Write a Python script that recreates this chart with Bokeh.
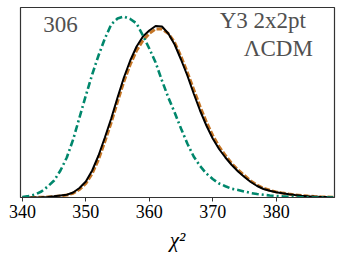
from bokeh.plotting import figure
from bokeh.models import Range1d, FixedTicker
from bokeh.core.properties import value
from bokeh.embed import file_html
from bokeh.resources import INLINE

# chi^2 grid (integer steps)
chi2 = list(range(340, 390))

# dash-dot green curve (relative density)
green = [0.5, 1.5, 3, 6, 11, 17, 27, 40, 58, 80,
         102, 123, 142, 159, 173, 179, 181, 178.5, 174, 162,
         149, 135, 117, 100, 85, 69, 54, 41, 31.5, 24,
         18.5, 14, 11.3, 8.7, 7.5, 6, 4.5, 3.5, 2.7, 2,
         1.5, 1.1, 0.8, 0.5, 0.3, 0.1, 0, 0, 0, 0]

# solid black curve
black = [0, 0, 0.1, 0.3, 0.6, 1.2, 2, 2.8, 5, 9.5,
         16, 27, 42, 60, 79, 100, 120, 137, 151, 161,
         167, 171.5, 171, 164, 153, 138, 122, 104, 87, 72,
         59, 48.5, 40, 32.5, 26, 20.5, 15.5, 11.5, 8.5, 6.8,
         5.3, 4.2, 3.3, 2.5, 1.8, 1.3, 0.9, 0.6, 0.4, 0.3]

# dashed orange curve
orange = [0, 0, 0.1, 0.2, 0.5, 1.0, 1.6, 2.4, 4.2, 8,
          14, 24, 38, 56, 75, 96, 116, 133, 147, 157,
          164, 168.5, 168.5, 164, 155, 141, 125, 108, 91, 75.5,
          62, 51, 42, 34, 27.5, 22, 16.5, 12.5, 9.2, 7.2,
          5.6, 4.4, 3.4, 2.6, 1.9, 1.4, 1.0, 0.7, 0.5, 0.3]

ticks = [340, 350, 360, 370, 380]

SERIF = "Liberation Serif"

p = figure(width=341, height=260, output_backend="svg", toolbar_location=None,
           x_range=Range1d(339.7, 389.2), y_range=Range1d(0, 190),
           y_axis_location=None,
           min_border_left=20, min_border_right=7, min_border_top=7,
           min_border_bottom=63)

p.grid.visible = False
p.background_fill_color = "white"
p.border_fill_color = "white"
p.outline_line_color = "#333333"
p.outline_line_width = 1.2

ax = p.xaxis[0]
ax.ticker = FixedTicker(ticks=ticks)
ax.minor_tick_line_color = None
ax.major_tick_out = 4
ax.major_tick_in = 0
ax.major_tick_line_color = "#333333"
ax.axis_line_color = "#333333"
ax.major_label_text_font = SERIF
ax.major_label_text_font_size = "18px"
ax.major_label_text_color = "black"
ax.major_label_standoff = 3
ax.axis_label = "χ²"
ax.axis_label_text_font = SERIF
ax.axis_label_text_font_size = "21px"
ax.axis_label_text_font_style = "italic"
ax.axis_label_text_color = "black"
ax.axis_label_standoff = 7

p.line(chi2, orange, line_color="#C47526", line_width=3, line_dash="6 2")
p.line(chi2, black, line_color="black", line_width=2)
p.line(chi2, green, line_color="#00876C", line_width=2.6, line_dash="7 3 2 3")

p.text(x=[343.3], y=[173], text=["306"], text_font=value(SERIF),
       text_font_size="23px", text_color="#505050",
       text_align="left", text_baseline="alphabetic")
p.text(x=[384.7], y=[177], text=["Y3 2x2pt"], text_font=value(SERIF),
       text_font_size="23px", text_color="#505050",
       text_align="right", text_baseline="alphabetic")
p.text(x=[385.8], y=[149], text=["ΛCDM"], text_font=value(SERIF),
       text_font_size="23px", text_color="#505050",
       text_align="right", text_baseline="alphabetic")

open("out.html", "w").write(file_html(p, INLINE))
